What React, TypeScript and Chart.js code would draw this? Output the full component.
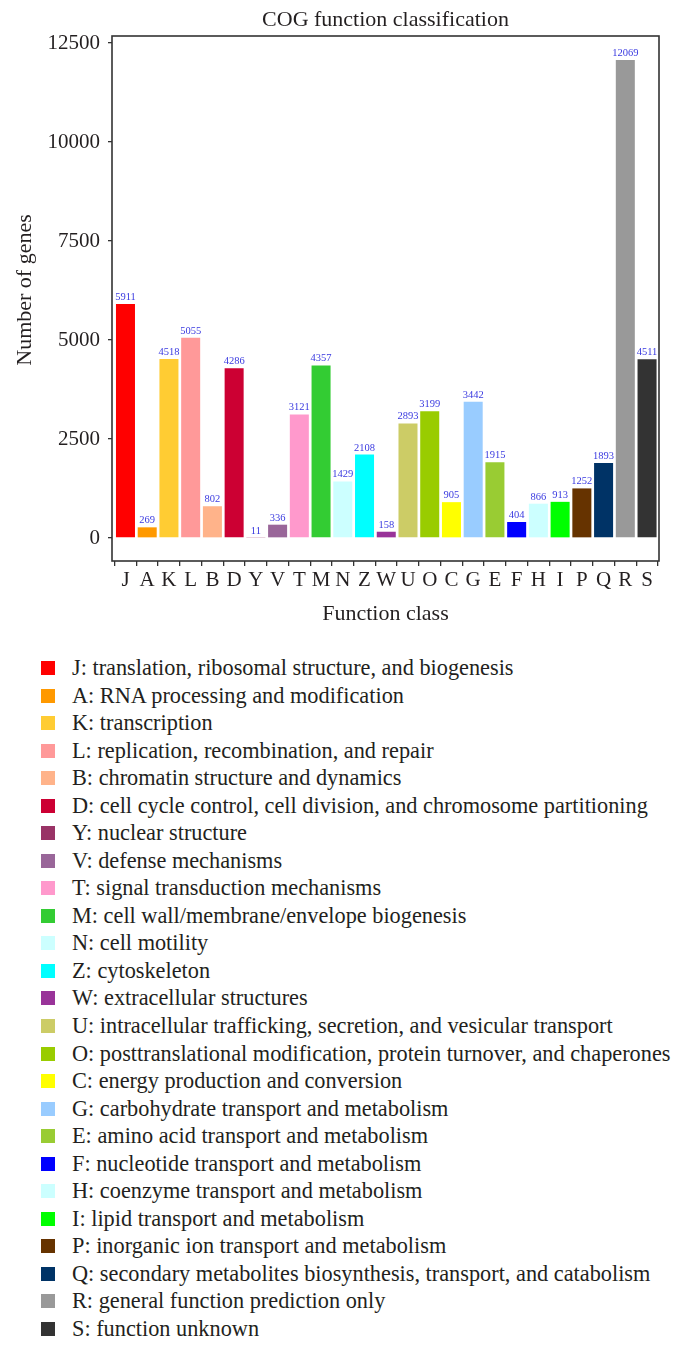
import React, { useEffect, useRef } from "react";
import { Chart, registerables } from "chart.js";

Chart.register(...registerables);

const categories = ["J", "A", "K", "L", "B", "D", "Y", "V", "T", "M", "N", "Z", "W", "U", "O", "C", "G", "E", "F", "H", "I", "P", "Q", "R", "S"];
const counts = [5911, 269, 4518, 5055, 802, 4286, 11, 336, 3121, 4357, 1429, 2108, 158, 2893, 3199, 905, 3442, 1915, 404, 866, 913, 1252, 1893, 12069, 4511];
const barColors = [
  "#FF0000", "#FF9900", "#FFCC33", "#FF9999", "#FFB38A", "#CC0033", "#993366", "#996699", "#FF99CC", "#33CC33",
  "#CCFFFF", "#00FFFF", "#993399", "#CCCC66", "#99CC00", "#FFFF00", "#99CCFF", "#99CC33", "#0000FF", "#CCFFFF",
  "#00FF00", "#663300", "#003366", "#999999", "#333333",
];
const descriptions = [
  "J: translation, ribosomal structure, and biogenesis",
  "A: RNA processing and modification",
  "K: transcription",
  "L: replication, recombination, and repair",
  "B: chromatin structure and dynamics",
  "D: cell cycle control, cell division, and chromosome partitioning",
  "Y: nuclear structure",
  "V: defense mechanisms",
  "T: signal transduction mechanisms",
  "M: cell wall/membrane/envelope biogenesis",
  "N: cell motility",
  "Z: cytoskeleton",
  "W: extracellular structures",
  "U: intracellular trafficking, secretion, and vesicular transport",
  "O: posttranslational modification, protein turnover, and chaperones",
  "C: energy production and conversion",
  "G: carbohydrate transport and metabolism",
  "E: amino acid transport and metabolism",
  "F: nucleotide transport and metabolism",
  "H: coenzyme transport and metabolism",
  "I: lipid transport and metabolism",
  "P: inorganic ion transport and metabolism",
  "Q: secondary metabolites biosynthesis, transport, and catabolism",
  "R: general function prediction only",
  "S: function unknown",
];
const yTicks = [0, 2500, 5000, 7500, 10000, 12500];
const chartTitle = "COG function classification";
const xTitle = "Function class";
const yTitle = "Number of genes";

const FONT = "'Liberation Serif', 'Times New Roman', serif";
const TEXT = "#231f20";

const framePlugin = {
  id: "frameAndLabels",
  afterDatasetsDraw(chart: any) {
    const { ctx, chartArea } = chart;
    ctx.save();
    // value labels
    const meta = chart.getDatasetMeta(0);
    ctx.fillStyle = "#3a3ae0";
    ctx.font = `10.5px ${FONT}`;
    ctx.textAlign = "center";
    ctx.textBaseline = "alphabetic";
    meta.data.forEach((bar: any, i: number) => {
      ctx.fillText(String(counts[i]), bar.x, bar.y - 4);
    });
    // frame
    ctx.strokeStyle = "#333";
    ctx.lineWidth = 1.6;
    ctx.strokeRect(chartArea.left, chartArea.top, chartArea.right - chartArea.left, chartArea.bottom - chartArea.top);
    // chart title, centred over the plot frame
    ctx.fillStyle = TEXT;
    ctx.font = `22px ${FONT}`;
    ctx.textAlign = "center";
    ctx.textBaseline = "middle";
    ctx.fillText(chartTitle, (chartArea.left + chartArea.right) / 2, 20);
    // y title
    ctx.translate(25, 290);
    ctx.rotate(-Math.PI / 2);
    ctx.fillText(yTitle, 0, 0);
    ctx.restore();
  },
};

function COGChart() {
  const ref = useRef<HTMLCanvasElement | null>(null);
  useEffect(() => {
    if (!ref.current) return;
    const chart = new Chart(ref.current, {
      type: "bar",
      data: {
        datasets: [
          {
            data: counts.map((v, i) => ({ x: i, y: v })),
            backgroundColor: barColors,
            borderWidth: 0,
            barPercentage: 0.875,
            categoryPercentage: 1,
          },
        ],
      },
      options: {
        responsive: false,
        animation: false,
        layout: { padding: { left: 0, right: 24, top: 36, bottom: 0 } },
        plugins: {
          legend: { display: false },
          tooltip: { enabled: false },
          title: { display: false },
        },
        scales: {
          x: {
            type: "linear",
            min: -0.62,
            max: 24.55,
            offset: false,
            grid: { display: true, drawOnChartArea: false, drawTicks: true, tickLength: 5, color: "#333", lineWidth: 1.3 },
            border: { display: false },
            afterBuildTicks: (s: any) => {
              s.ticks = categories.map((_, i) => ({ value: i }));
            },
            ticks: {
              autoSkip: false,
              maxRotation: 0,
              padding: 2,
              color: TEXT,
              font: { family: FONT, size: 21 },
              callback: (v: any) => categories[v as number],
            },
            title: {
              display: true,
              text: xTitle,
              color: TEXT,
              font: { family: FONT, size: 22 },
              padding: { top: 0, bottom: 12.8 },
            },
            afterFit: (s: any) => {
              s.height = 79;
            },
          },
          y: {
            min: -581,
            max: 12677,
            grid: { display: true, drawOnChartArea: false, drawTicks: true, tickLength: 4, color: "#333", lineWidth: 1.3 },
            border: { display: false },
            afterBuildTicks: (s: any) => {
              s.ticks = yTicks.map((v) => ({ value: v }));
            },
            ticks: {
              padding: 8,
              color: TEXT,
              font: { family: FONT, size: 21 },
              callback: (v: any) => String(v),
            },
            afterFit: (s: any) => {
              s.width = 112;
            },
          },
        },
      } as any,
      plugins: [framePlugin],
    });
    return () => chart.destroy();
  }, []);
  return <canvas ref={ref} width={683} height={640} style={{ display: "block", position: "absolute", left: 0, top: 0 }} />;
}

export default function App() {
  const rowH = 27.54;
  return (
    <div style={{ position: "absolute", left: 0, top: 0, width: 683, height: 1347, background: "#fff", overflow: "hidden" }}>
      <COGChart />
      {descriptions.map((d, i) => (
        <div
          key={categories[i]}
          style={{
            position: "absolute",
            left: 41,
            top: 668 + rowH * i - rowH / 2,
            height: rowH,
            display: "flex",
            alignItems: "center",
            whiteSpace: "nowrap",
            fontFamily: FONT,
            fontSize: 22.3,
            color: TEXT,
          }}
        >
          <span style={{ display: "inline-block", width: 14, height: 14, background: barColors[i], marginRight: 17, flex: "none" }} />
          <span>{d}</span>
        </div>
      ))}
    </div>
  );
}
